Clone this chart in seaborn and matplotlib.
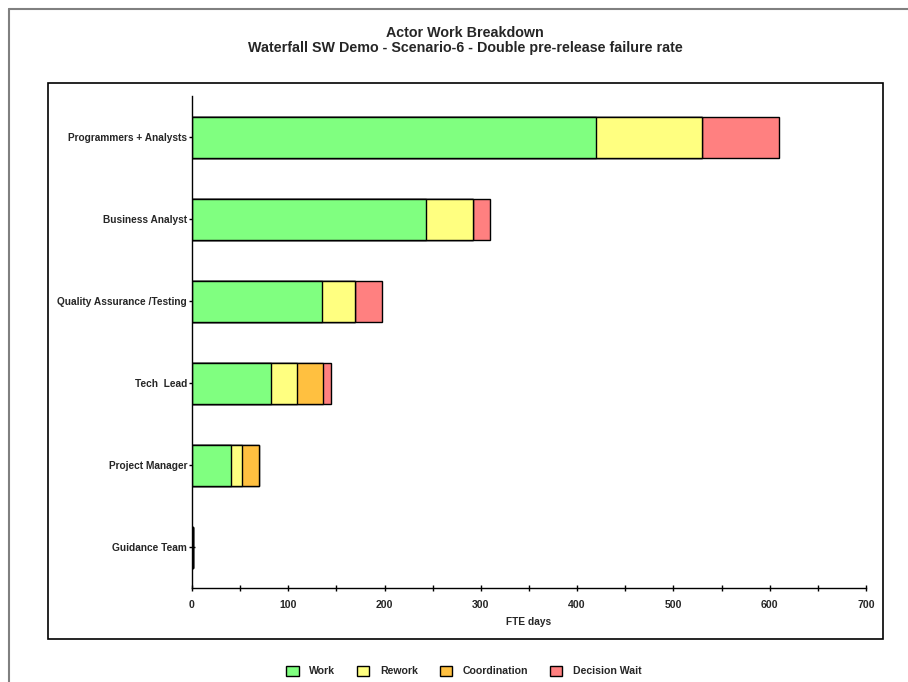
import matplotlib
matplotlib.use('Agg')
import matplotlib.pyplot as plt
import seaborn as sns
import pandas as pd
from matplotlib.patches import Rectangle, Patch
from matplotlib.lines import Line2D
from matplotlib.ticker import MultipleLocator

actors = ["Programmers + Analysts", "Business Analyst", "Quality Assurance /Testing",
          "Tech  Lead", "Project Manager", "Guidance Team"]
work = [420, 243, 135, 82, 41, 1]
rework = [110, 49, 34, 27, 11, 0]
coordination = [0, 0, 0, 27, 18, 0]
decision_wait = [80, 18, 28, 8, 0, 0]

series_names = ["Work", "Rework", "Coordination", "Decision Wait"]
colors = ["#80FF80", "#FFFF80", "#FFC040", "#FF8080"]

sns.set_style("white")
plt.rcParams['font.family'] = ['Liberation Sans', 'DejaVu Sans']
plt.rcParams['font.weight'] = 'bold'

df = pd.DataFrame({"actor": actors, "Work": work, "Rework": rework,
                   "Coordination": coordination, "Decision Wait": decision_wait})
cum = df[series_names].cumsum(axis=1)

fig = plt.figure(figsize=(9.08, 6.82), dpi=100)
ax = fig.add_axes([192/908, 1-588/682, 674/908, 492/682])

# stacked via overlapping cumulative bars (largest first)
for name, col in reversed(list(zip(series_names, colors))):
    d = pd.DataFrame({"actor": actors, "val": cum[name]})
    sns.barplot(data=d, x="val", y="actor", order=actors, color=col, saturation=1,
                width=0.5, edgecolor="black", linewidth=1, ax=ax, orient="h")

ax.set_xlim(0, 700)
ax.set_ylim(5.5, -0.5)
ax.xaxis.set_major_locator(MultipleLocator(100))
ax.xaxis.set_minor_locator(MultipleLocator(50))
ax.tick_params(axis='both', which='both', direction='inout', length=5, width=1,
               color='black', bottom=True, left=True)
ax.tick_params(axis='y', labelsize=7.3, pad=1)
ax.tick_params(axis='x', labelsize=7.6, pad=6)
for lbl in ax.get_xticklabels() + ax.get_yticklabels():
    lbl.set_fontweight('bold')
ax.set_xlabel("FTE days", fontsize=7.3, fontweight='bold', labelpad=5)
ax.set_ylabel("")
for s in ['top', 'right']:
    ax.spines[s].set_visible(False)
for s in ['left', 'bottom']:
    ax.spines[s].set_color('black')
    ax.spines[s].set_linewidth(1)

# plot area frame
fig.add_artist(Rectangle((48/908, 1-639/682), (883-48)/908, (639-83)/682,
                         transform=fig.transFigure, fill=False, edgecolor='black',
                         linewidth=1.2, zorder=0))
# outer border (left and top)
fig.add_artist(Line2D([8.5/908, 8.5/908], [0, 1-9/682], transform=fig.transFigure,
                      color='#808080', linewidth=1.5))
fig.add_artist(Line2D([8.5/908, 1], [1-9/682, 1-9/682], transform=fig.transFigure,
                      color='#808080', linewidth=1.5))

fig.text(465/908, 1-33/682, "Actor Work Breakdown", ha='center', va='center',
         fontsize=10.3, fontweight='bold')
fig.text(465/908, 1-48/682, "Waterfall SW Demo - Scenario-6 - Double pre-release failure rate",
         ha='center', va='center', fontsize=10.3, fontweight='bold')

handles = [Patch(facecolor=c, edgecolor='black', linewidth=1, label=n)
           for n, c in zip(series_names, colors)]
fig.legend(handles=handles, loc='center', bbox_to_anchor=(464/908, 1-671/682), ncol=4,
           frameon=False, prop={'size': 7.6, 'weight': 'bold'}, handlelength=1.15,
           handleheight=1.15, columnspacing=2.1, handletextpad=1.0)

fig.savefig("out.png", dpi=100)
